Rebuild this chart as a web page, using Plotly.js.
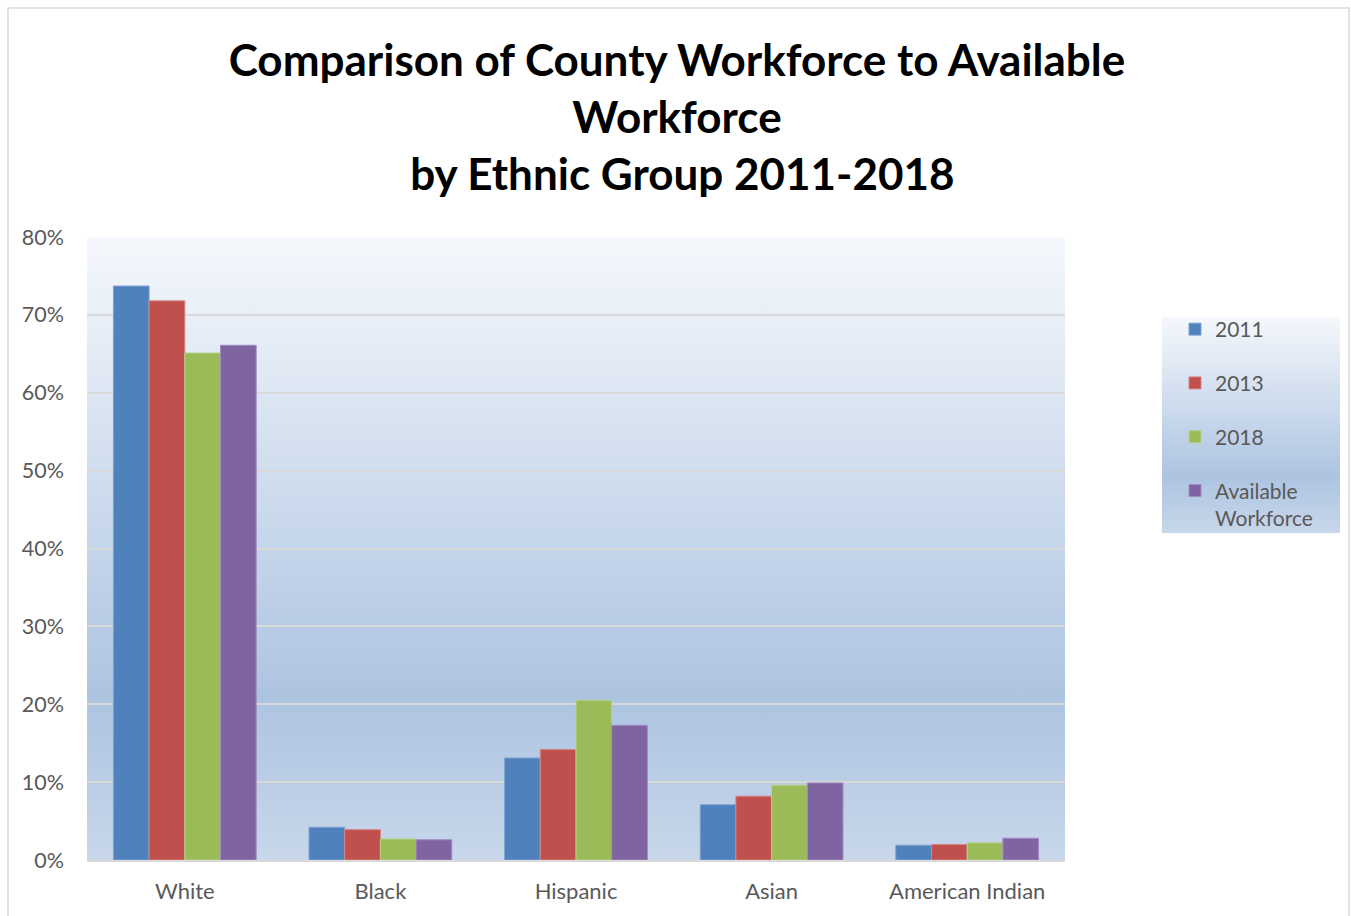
<!DOCTYPE html>
<html>
<head>
<meta charset="utf-8">
<script src="https://cdn.plot.ly/plotly-3.0.1.min.js"></script>
<style>html,body{margin:0;padding:0;background:#fff;}#chart{width:1351px;height:916px;}</style>
</head>
<body>
<div id="chart"></div>
<script>
var categories = ["White", "Black", "Hispanic", "Asian", "American Indian"];
var seriesNames = ["2011", "2013", "2018", "Available<br>Workforce"];
var values2011 = [73.7, 4.2, 13.1, 7.1, 1.9];
var values2013 = [71.8, 3.9, 14.2, 8.2, 2.0];
var values2018 = [65.1, 2.7, 20.5, 9.6, 2.2];
var valuesAvailable = [66.1, 2.6, 17.3, 9.9, 2.8];
var yTickValues = [0, 10, 20, 30, 40, 50, 60, 70, 80];
var yTickLabels = ["0%", "10%", "20%", "30%", "40%", "50%", "60%", "70%", "80%"];

var colors = ["#4f81bd", "#c0504d", "#9bbb59", "#8064a2"];
var outline = ["#7fa3d1", "#d68583", "#b8d189", "#a08cc0"];
var allValues = [values2011, values2013, values2018, valuesAvailable];

var traces = allValues.map(function (v, i) {
  return {
    type: "bar",
    name: seriesNames[i],
    legendgroup: "g" + i,
    x: categories,
    y: v,
    marker: { color: colors[i], line: { color: outline[i], width: 1 } },
    hoverinfo: "x+y+name"
  };
});

function gradUri(id) {
  var svg = '<svg xmlns="http://www.w3.org/2000/svg" width="100" height="100" preserveAspectRatio="none">' +
    '<defs><linearGradient id="' + id + '" x1="0" y1="0" x2="0" y2="1">' +
    '<stop offset="0" stop-color="#f5f8fc"/>' +
    '<stop offset="0.74" stop-color="#adc4e1"/>' +
    '<stop offset="1" stop-color="#c8d7ea"/>' +
    '</linearGradient></defs><rect x="0" y="0" width="100" height="100" fill="url(#' + id + ')"/></svg>';
  return "data:image/svg+xml;charset=utf-8," + encodeURIComponent(svg);
}

var W = 1351, H = 916;
var L = 87, R = 1065, T = 237, B = 860;
function px(x) { return (x - L) / (R - L); }
function py(y) { return (B - y) / (B - T); }

var font = "Lato, 'Open Sans', sans-serif";

var layout = {
  width: W,
  height: H,
  margin: { l: L, r: W - R, t: T, b: H - B, pad: 0 },
  paper_bgcolor: "#ffffff",
  plot_bgcolor: "rgba(0,0,0,0)",
  font: { family: font, size: 20, color: "#595959" },
  title: {
    text: "<b>Comparison of County Workforce to Available<br>Workforce<br> by Ethnic Group 2011-2018</b>",
    font: { family: font, size: 44, color: "#000000" },
    x: 677 / W,
    xref: "container",
    xanchor: "center",
    y: 1 - 76 / H,
    yref: "container",
    yanchor: "top"
  },
  barmode: "group",
  bargap: 0.27,
  bargroupgap: 0,
  xaxis: {
    showgrid: false,
    showline: true,
    linecolor: "#d9d9d9",
    linewidth: 2,
    ticks: "",
    ticklabelstandoff: 11,
    tickfont: { family: font, size: 22, color: "#595959" },
    fixedrange: true
  },
  yaxis: {
    range: [0, 80],
    tickvals: yTickValues,
    ticktext: yTickLabels,
    showgrid: true,
    gridcolor: "#d9d9d9",
    gridwidth: 2,
    zeroline: false,
    showline: false,
    ticks: "",
    ticklabelstandoff: 22,
    tickfont: { family: font, size: 21.5, color: "#595959" },
    fixedrange: true
  },
  legend: {
    x: px(1175),
    xanchor: "left",
    y: py(309),
    yanchor: "top",
    bgcolor: "rgba(0,0,0,0)",
    borderwidth: 0,
    traceorder: "grouped",
    tracegroupgap: 23.5,
    itemwidth: 30,
    valign: "top",
    font: { family: font, size: 21, color: "#595959" }
  },
  images: [
    {
      source: gradUri("g1"),
      xref: "paper", yref: "paper",
      x: 0, y: 1, sizex: 1, sizey: 1,
      xanchor: "left", yanchor: "top",
      sizing: "stretch", layer: "below"
    },
    {
      source: gradUri("g2"),
      xref: "paper", yref: "paper",
      x: px(1162), y: py(317), sizex: px(1340) - px(1162), sizey: py(317) - py(533),
      xanchor: "left", yanchor: "top",
      sizing: "stretch", layer: "below"
    }
  ],
  shapes: [
    {
      type: "rect", xref: "paper", yref: "paper",
      x0: px(8), x1: px(1349), y0: py(8), y1: py(930),
      line: { color: "#d9d9d9", width: 1.5 },
      fillcolor: "rgba(0,0,0,0)",
      layer: "below"
    }
  ]
};

Plotly.newPlot("chart", traces, layout, { displayModeBar: false, staticPlot: false });
</script>
</body>
</html>
